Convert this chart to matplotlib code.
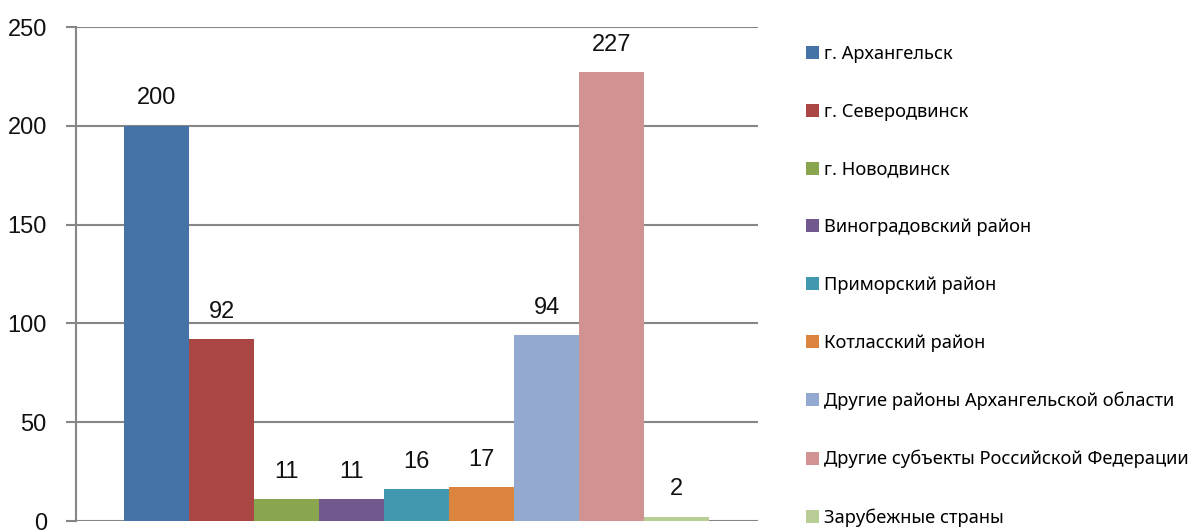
import matplotlib.pyplot as plt
from matplotlib.patches import Patch

# data
categories = ['г. Архангельск', 'г. Северодвинск', 'г. Новодвинск',
              'Виноградовский район', 'Приморский район', 'Котласский район',
              'Другие районы Архангельской области',
              'Другие субъекты Российской Федерации', 'Зарубежные страны']
values = [200, 92, 11, 11, 16, 17, 94, 227, 2]
colors = ['#4572A7', '#AA4643', '#89A54E', '#71588F', '#4198AF',
          '#DB843D', '#93A9CF', '#D19392', '#B9CD96']
yticks = [0, 50, 100, 150, 200, 250]

plt.rcParams['font.family'] = ['Liberation Sans', 'DejaVu Sans']

fig = plt.figure(figsize=(11.96, 5.30), dpi=100)
ax = fig.add_axes([76 / 1196, 1 - 521 / 530, (758 - 76) / 1196, (521 - 27) / 530])

x = list(range(len(values)))
ax.bar(x, values, width=1.0, color=colors, zorder=3)

# value labels above the bars
for xi, v in zip(x, values):
    ax.annotate(str(v), (xi, v), xytext=(0, 12), textcoords='offset points',
                ha='center', va='bottom', fontsize=17, color='#111111')

ax.set_xlim(-1.24, 9.25)
ax.set_ylim(0, 250)
ax.set_yticks(yticks)
ax.set_xticks([])
ax.tick_params(axis='y', labelsize=17, length=7, width=1.5, color='#868686',
               pad=14, labelcolor='#111111')
ax.yaxis.grid(True, color='#868686', linewidth=1.5, zorder=0)

for side in ['top', 'right', 'bottom']:
    ax.spines[side].set_visible(False)
ax.spines['left'].set_color('#868686')
ax.spines['left'].set_linewidth(1.5)

handles = [Patch(facecolor=c, edgecolor='none') for c in colors]
fig.legend(handles, categories, loc='upper left', bbox_to_anchor=(806 / 1196, 1 - 45 / 530),
           frameon=False, prop={'family': ['Noto Sans', 'DejaVu Sans'], 'size': 13.2},
           handlelength=0.72, handleheight=0.72, handletextpad=0.25,
           labelspacing=2.17, borderaxespad=0, borderpad=0)

fig.savefig('out.png', dpi=100)
